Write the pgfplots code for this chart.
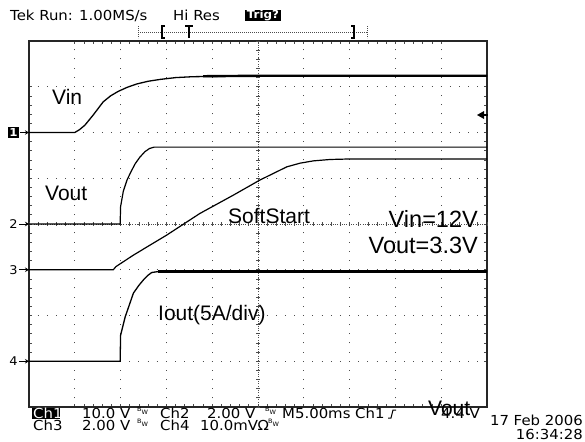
\documentclass[border=0pt]{standalone}
\usepackage{pgfplots}
\pgfplotsset{compat=1.18}
\usepackage{fontspec}
\setmainfont{Liberation Sans}
\newfontfamily\tek[FakeStretch=1.08]{DejaVu Sans}
\usetikzlibrary{arrows.meta}
\newcommand{\lab}{\fontsize{21bp}{21bp}\selectfont}
\newcommand{\labb}{\fontsize{23.5bp}{23.5bp}\selectfont}
\newcommand{\tk}{\tek\fontsize{13.8bp}{13.8bp}\selectfont}
\newcommand{\bw}{{\tek\fontsize{6bp}{6bp}\selectfont\raisebox{3bp}{B}\raisebox{0bp}{W}}}
\begin{document}
\begin{tikzpicture}
\path[use as bounding box] (0bp,0bp) rectangle (585bp,-442bp);
\begin{axis}[
  at={(29bp,-407bp)}, anchor=south west,
  scale only axis, width=458bp, height=366bp,
  xmin=0,xmax=10,ymin=0,ymax=8,
  xtick={1,...,9}, ytick={1,...,7},
  minor x tick num=4, minor y tick num=4,
  xticklabels={}, yticklabels={},
  tick align=inside, major tick length=3bp, minor tick length=3bp,
  tick style={black!70, line width=0.8bp},
  grid=major,
  major grid style={black!70, line width=1bp, dash pattern=on 1bp off 8.16bp, dash phase=0.5bp},
  axis line style={black!85, line width=1.5bp},
  clip=false,
]
% centre lines
\draw[black!70, line width=0.8bp, dash pattern=on 0.8bp off 1.5bp] (axis cs:0,4) -- (axis cs:10,4);
\draw[black!70, line width=4bp, dash pattern=on 0.8bp off 8.36bp, dash phase=0.4bp] (axis cs:0,4) -- (axis cs:10,4);
\draw[black!70, line width=0.8bp, dash pattern=on 0.8bp off 1.5bp] (axis cs:5,0) -- (axis cs:5,8);
\draw[black!70, line width=4bp, dash pattern=on 0.8bp off 8.35bp, dash phase=0.4bp] (axis cs:5,0) -- (axis cs:5,8);
% Ch1 Vin
\addplot[black, line width=1.3bp] coordinates {(0,6.0) (1.0,6.0) (1.1,6.06) (1.22,6.16) (1.40,6.38) (1.62,6.67) (1.78,6.8) (1.95,6.9) (2.15,6.99) (2.35,7.06) (2.6,7.12) (2.86,7.16) (3.2,7.2) (3.58,7.22) (5.04,7.24) (10,7.24)};
\addplot[black, line width=2.4bp] coordinates {(3.8,7.23) (5.04,7.24) (10,7.24)};
% Ch2 Vout
\addplot[black, line width=1.2bp] coordinates {(0,4.0) (1.99,4.0) (2.0,4.38) (2.06,4.72) (2.14,4.96) (2.22,5.13) (2.32,5.32) (2.42,5.46) (2.53,5.58) (2.63,5.65) (2.73,5.68) (10,5.68)};
% Ch3 SoftStart
\addplot[black, line width=1.2bp] coordinates {(0,3.0) (1.84,3.0) (1.90,3.07) (2.28,3.32) (3.01,3.76) (3.73,4.23) (4.46,4.63) (5.04,4.96) (5.63,5.25) (5.92,5.33) (6.21,5.38) (6.57,5.41) (6.94,5.42) (10,5.42)};
% Ch4 Iout
\addplot[black, line width=1.3bp] coordinates {(0,1.0) (1.99,1.0) (2.0,1.57) (2.10,1.97) (2.28,2.49) (2.40,2.66) (2.50,2.78) (2.60,2.88) (2.68,2.94) (2.82,2.96) (10,2.96)};
\addplot[black, line width=2.2bp] coordinates {(2.82,2.96) (10,2.96)};
\end{axis}
\begin{scope}[x=1bp,y=-1bp]
% header
\node[anchor=base west, inner sep=0] at (10,20) {\tk Tek Run: 1.00MS/s};
\node[anchor=base west, inner sep=0] at (173,20) {\tk Hi Res};
\fill (245,10) rectangle (281,21);
\node[white, inner sep=0] at (263,15.5) {\tek\bfseries\fontsize{11bp}{11bp}\selectfont Trig?};
\draw[black!70, line width=0.8bp, dash pattern=on 1bp off 1bp] (138,32) -- (367,32);
\draw[black!70, line width=0.8bp, dash pattern=on 1bp off 1bp] (138,26) -- (138,38);
\draw[black!70, line width=0.8bp, dash pattern=on 1bp off 1bp] (367,26) -- (367,38);
\draw[line width=1.2bp] (165,26) -- (162,26) -- (162,38) -- (165,38);
\draw[line width=1.2bp] (351,26) -- (354,26) -- (354,38) -- (351,38);
\draw[line width=1.2bp] (185,26) -- (193,26) (189,26) -- (189,38);
% trigger level arrow
\fill (477,115) -- (484,111) -- (484,119) -- cycle;
\draw[line width=1.3bp] (483,115) -- (488,115);
% channel markers
\fill (8,127) rectangle (19,138);
\node[white, inner sep=0] at (13.5,132.5) {\tek\bfseries\fontsize{11bp}{11bp}\selectfont 1};
\draw[line width=1bp, -{Stealth[length=4bp,width=4.5bp]}] (20,132.5) -- (29,132.5);
\node[inner sep=0] at (13.5,224) {\tek\fontsize{12bp}{12bp}\selectfont 2};
\draw[line width=1bp, -{Stealth[length=4bp,width=4.5bp]}] (19,224) -- (29,224);
\node[inner sep=0] at (13.5,269.75) {\tek\fontsize{12bp}{12bp}\selectfont 3};
\draw[line width=1bp, -{Stealth[length=4bp,width=4.5bp]}] (19,269.75) -- (29,269.75);
\node[inner sep=0] at (13.5,361.25) {\tek\fontsize{12bp}{12bp}\selectfont 4};
\draw[line width=1bp, -{Stealth[length=4bp,width=4.5bp]}] (19,361.25) -- (29,361.25);
% annotations
\node[anchor=base west, inner sep=0] at (52,104) {\lab Vin};
\node[anchor=base west, inner sep=0] at (45,200) {\lab Vout};
\node[anchor=base west, inner sep=0] at (228,223) {\lab SoftStart};
\node[anchor=base east, inner sep=0] at (478,227) {\labb Vin=12V};
\node[anchor=base east, inner sep=0] at (478,253) {\labb Vout=3.3V};
\node[anchor=base west, inner sep=0] at (158,320) {\lab Iout(5A/div)};
% footer
\fill (32,408) rectangle (60,419);
\node[white, anchor=base west, inner sep=0] at (33,418) {\tk Ch1};
\node[anchor=base west, inner sep=0] at (82,418) {\tk 10.0 V};
\node[anchor=base west, inner sep=0] at (137,414) {\bw};
\node[anchor=base west, inner sep=0] at (160,418) {\tk Ch2};
\node[anchor=base west, inner sep=0] at (207,418) {\tk 2.00 V};
\node[anchor=base west, inner sep=0] at (265,414) {\bw};
\node[anchor=base west, inner sep=0] at (282,418) {\tk M5.00ms};
\node[anchor=base west, inner sep=0] at (355,418) {\tk Ch1};
\draw[line width=1bp] (388,418) -- (391,418) -- (393,410) -- (396,410);
\node[anchor=base west, inner sep=0] at (441,418) {\tk 4.4 V};
\node[anchor=base west, inner sep=0] at (33,430) {\tk Ch3};
\node[anchor=base west, inner sep=0] at (82,430) {\tk 2.00 V};
\node[anchor=base west, inner sep=0] at (137,426) {\bw};
\node[anchor=base west, inner sep=0] at (160,430) {\tk Ch4};
\node[anchor=base west, inner sep=0] at (200,430) {\tk 10.0mV\kern-0.5bp Ω};
\node[anchor=base west, inner sep=0] at (268,426) {\bw};
\node[anchor=base west, inner sep=0] at (428,415) {\lab Vout};
\node[anchor=base east, inner sep=0] at (583,425) {\tk 17 Feb 2006};
\node[anchor=base east, inner sep=0] at (583,439) {\tk 16:34:28};
\end{scope}
\end{tikzpicture}
\end{document}
